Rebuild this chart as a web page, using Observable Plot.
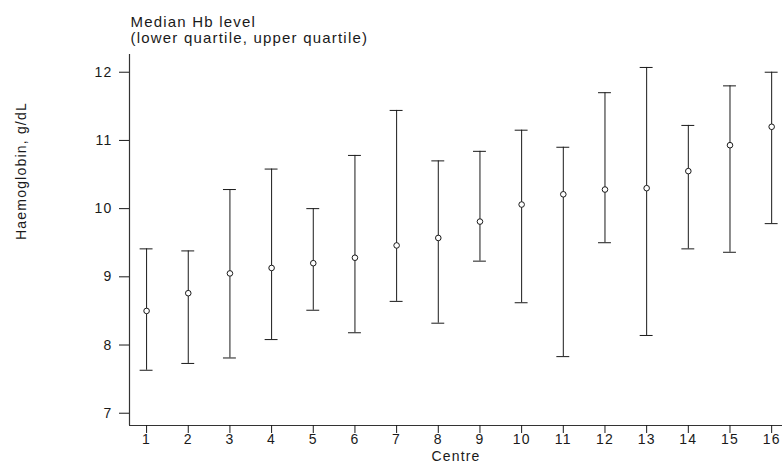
<!DOCTYPE html>
<html>
<head>
<meta charset="utf-8">
<script src="https://cdn.jsdelivr.net/npm/d3@7"></script>
<script src="https://cdn.jsdelivr.net/npm/@observablehq/plot@0.6"></script>
<style>
  html, body { margin: 0; padding: 0; background: #fff; }
  #chart svg { display: block; }
  #chart text { letter-spacing: 1.2px; }
</style>
</head>
<body>
<div id="chart"></div>
<script>
const centres = [1, 2, 3, 4, 5, 6, 7, 8, 9, 10, 11, 12, 13, 14, 15, 16];
const medians = [8.50, 8.76, 9.05, 9.13, 9.20, 9.28, 9.46, 9.57, 9.81, 10.06, 10.21, 10.28, 10.30, 10.55, 10.93, 11.20];
const lowerQ  = [7.63, 7.73, 7.81, 8.08, 8.51, 8.18, 8.64, 8.32, 9.23, 8.62, 7.83, 9.50, 8.14, 9.41, 9.36, 9.78];
const upperQ  = [9.41, 9.38, 10.28, 10.58, 10.00, 10.78, 11.44, 10.70, 10.84, 11.15, 10.90, 11.70, 12.07, 11.22, 11.80, 12.00];
const yTicks = [7, 8, 9, 10, 11, 12];
const titleLines = ["Median Hb level", "(lower quartile, upper quartile)"];
const yLabel = "Haemoglobin, g/dL";
const xLabel = "Centre";

const data = centres.map((c, i) => ({centre: c, med: medians[i], lo: lowerQ[i], hi: upperQ[i]}));

const xDomain = [0.59, 16.26];
const yDomain = [6.82, 12.26];
const capHalf = 0.155;
const ink = "#1a1a1a";

const chart = Plot.plot({
  width: 782,
  height: 463,
  marginLeft: 129,
  marginRight: 0,
  marginTop: 54,
  marginBottom: 38,
  style: {fontFamily: "'Liberation Sans', Arial, sans-serif", fontSize: "14px", color: ink, background: "#fff"},
  x: {domain: xDomain},
  y: {domain: yDomain},
  marks: [
    Plot.ruleX([xDomain[0]], {stroke: "#333", strokeWidth: 1.2}),
    Plot.ruleY([yDomain[0]], {stroke: "#333", strokeWidth: 1.2}),
    Plot.axisY({ticks: yTicks, tickSize: 10, tickPadding: 7, label: null, tickFormat: d => d, fontSize: 14}),
    Plot.axisX({ticks: centres, tickSize: 8, tickPadding: 1, label: null, tickFormat: d => d, fontSize: 14}),
    Plot.ruleX(data, {x: "centre", y1: "lo", y2: "hi", stroke: ink, strokeWidth: 1}),
    Plot.ruleY(data, {y: "lo", x1: d => d.centre - capHalf, x2: d => d.centre + capHalf, stroke: ink, strokeWidth: 1}),
    Plot.ruleY(data, {y: "hi", x1: d => d.centre - capHalf, x2: d => d.centre + capHalf, stroke: ink, strokeWidth: 1}),
    Plot.dot(data, {x: "centre", y: "med", r: 2.8, stroke: ink, fill: "white", strokeWidth: 1}),
    Plot.text([titleLines[0]], {frameAnchor: "top-left", textAnchor: "start", lineAnchor: "bottom", dx: 1, dy: -27.5, fontSize: 15, fill: ink}),
    Plot.text([titleLines[1]], {frameAnchor: "top-left", textAnchor: "start", lineAnchor: "bottom", dx: 1, dy: -12, fontSize: 15, fill: ink}),
    Plot.text([yLabel], {frameAnchor: "left", rotate: -90, dx: -108, fontSize: 14, fill: ink}),
    Plot.text([xLabel], {frameAnchor: "bottom", lineAnchor: "bottom", dy: 35.5, fontSize: 14, fill: ink})
  ]
});
document.getElementById("chart").appendChild(chart);
</script>
</body>
</html>
